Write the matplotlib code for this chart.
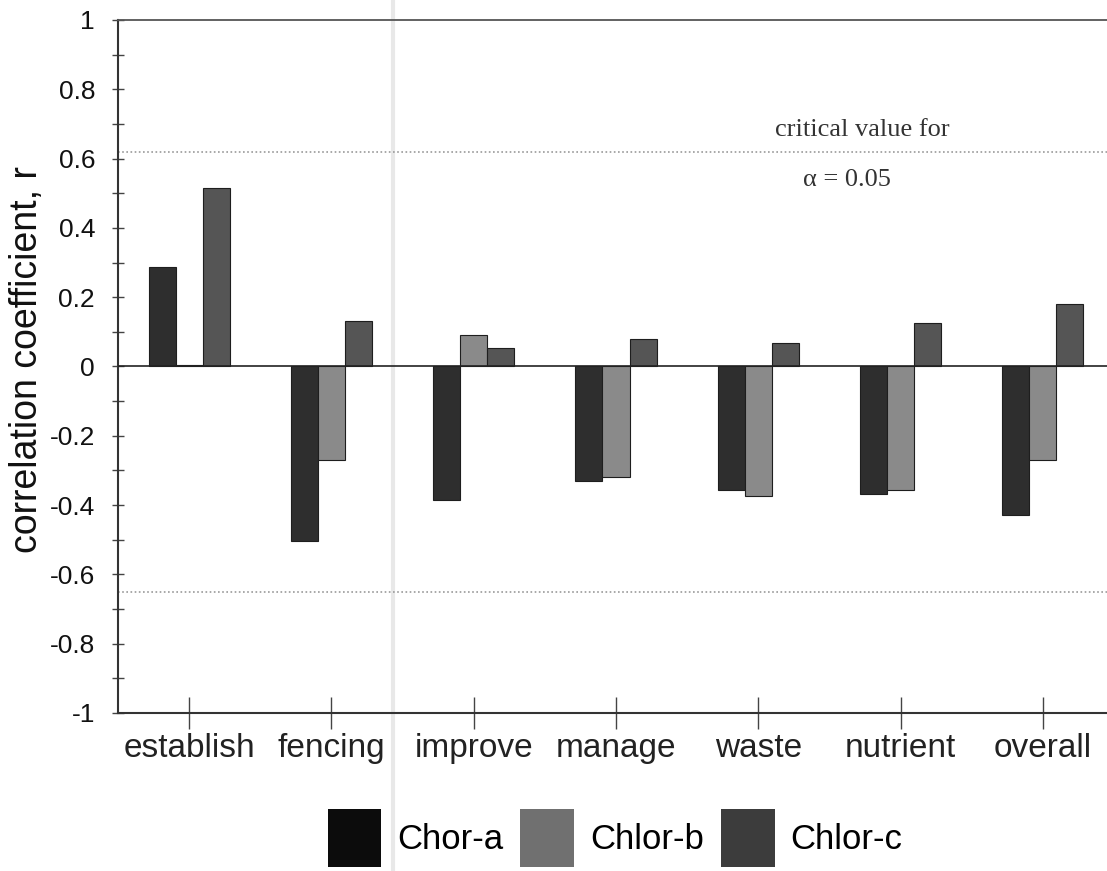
import matplotlib
matplotlib.use("Agg")
import matplotlib.pyplot as plt
import numpy as np
from matplotlib.patches import Patch
from matplotlib.lines import Line2D
from matplotlib.ticker import MultipleLocator, FixedLocator, FuncFormatter

# ---------------- data ----------------
categories = ["establish", "fencing", "improve", "manage", "waste", "nutrient", "overall"]
series_names = ["Chor-a", "Chlor-b", "Chlor-c"]
chor_a = [0.286, -0.503, -0.386, -0.330, -0.356, -0.368, -0.428]
chlor_b = [0.005, -0.270, 0.090, -0.318, -0.373, -0.357, -0.270]
chlor_c = [0.515, 0.131, 0.052, 0.079, 0.068, 0.126, 0.180]
critical_upper = 0.62
critical_lower = -0.65
y_major = [-1, -0.8, -0.6, -0.4, -0.2, 0, 0.2, 0.4, 0.6, 0.8, 1]

bar_colors = ["#2e2e2e", "#8a8a8a", "#555555"]
legend_colors = ["#0c0c0c", "#707070", "#3c3c3c"]

plt.rcParams["font.family"] = ["Liberation Sans", "DejaVu Sans"]

W, H = 1107, 871
fig = plt.figure(figsize=(W / 100, H / 100), dpi=100)
fig.patch.set_facecolor("white")

# faint scan fold line
fig.add_artist(Line2D([393 / W, 393 / W], [0, 1], transform=fig.transFigure,
                      color="#e8e8e8", lw=3, zorder=0))

ax = fig.add_axes([118 / W, 158 / H, 996 / W, 693 / H])
ax.set_facecolor("none")

x = np.arange(len(categories))
bw = 0.19
for i, (vals, col) in enumerate(zip([chor_a, chlor_b, chlor_c], bar_colors)):
    ax.bar(x + (i - 1) * bw, vals, width=bw, color=col, edgecolor="#1e1e1e",
           linewidth=0.8, zorder=3)

ax.axhline(0, color="#222222", lw=1.2, zorder=4)
ax.axhline(critical_upper, color="#9a9a9a", lw=1.2, ls=(0, (1, 1.5)), zorder=2)
ax.axhline(critical_lower, color="#9a9a9a", lw=1.2, ls=(0, (1, 1.5)), zorder=2)

ax.set_xlim(-0.5, len(categories) - 0.5)
ax.set_ylim(-1, 1)

ax.yaxis.set_major_locator(FixedLocator(y_major))
ax.yaxis.set_minor_locator(MultipleLocator(0.1))
ax.yaxis.set_major_formatter(FuncFormatter(lambda v, p: f"{v:g}" if abs(v) > 1e-9 else "0"))
ax.tick_params(axis="y", which="both", direction="inout", length=9, width=1,
               color="#444444", labelsize=19, pad=12, labelcolor="#111111")
ax.set_xticks(x)
ax.set_xticklabels(categories)
ax.tick_params(axis="x", direction="inout", length=23, width=1, color="#444444",
               labelsize=24, pad=3, labelcolor="#222222")

ax.set_ylabel("correlation coefficient, r", fontsize=27, color="#111111")
ax.yaxis.set_label_coords(-(118 - 45) / 996, 0.51)

for side in ["left", "bottom"]:
    ax.spines[side].set_color("#333333")
    ax.spines[side].set_linewidth(1.5)
ax.spines["top"].set_color("#555555")
ax.spines["top"].set_linewidth(1.3)
ax.spines["right"].set_visible(False)

ax.text(4.117, 0.683, "critical value for", family=["Liberation Serif", "DejaVu Serif"],
        fontsize=19, color="#333333", ha="left", va="center")
ax.text(4.314, 0.538, "\u03b1 = 0.05", family=["Liberation Serif", "DejaVu Serif"],
        fontsize=19, color="#333333", ha="left", va="center")

handles = [Patch(facecolor=c, edgecolor="none") for c in legend_colors]
fig.legend(handles, series_names, loc="center", bbox_to_anchor=(615 / W, 1 - 838 / H),
           ncol=3, frameon=False, fontsize=25, handlelength=1.55, handleheight=2.2,
           handletextpad=0.45, columnspacing=0.5)

fig.savefig("out.png", dpi=100, facecolor="white")
